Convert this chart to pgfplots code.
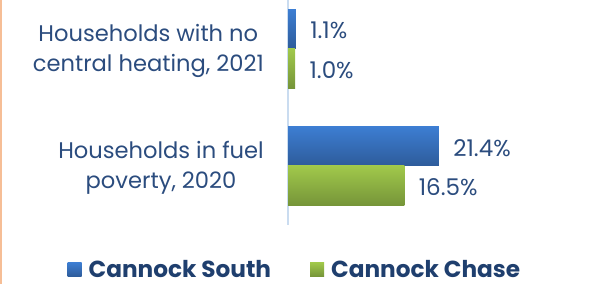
\documentclass[border=0pt]{standalone}
\usepackage{pgfplots}
\pgfplotsset{compat=1.18}
\usepackage{fontspec}
\setmainfont{Poppins}
\definecolor{txt}{HTML}{2B4C7E}
\definecolor{legtxt}{HTML}{1F3F6E}
\definecolor{blueT}{HTML}{3D7ED3}
\definecolor{blueM}{HTML}{366DB8}
\definecolor{blueB}{HTML}{2E5C9B}
\definecolor{greenT}{HTML}{A1C94B}
\definecolor{greenM}{HTML}{8DB042}
\definecolor{greenB}{HTML}{769539}
\definecolor{axl}{HTML}{CADCF0}
\definecolor{orl}{HTML}{F6BE96}
\pgfplotsset{
  bluebar/.style={top color=blueT, middle color=blueM, bottom color=blueB, draw=none, bar shift=19.75pt},
  greenbar/.style={top color=greenT, middle color=greenM, bottom color=greenB, draw=none, bar shift=-19.75pt},
}
\begin{document}
\begin{tikzpicture}[x=1pt,y=1pt]
\path[use as bounding box] (0,0) rectangle (592,284);
\fill[orl] (0,0) rectangle (2,284);
\begin{axis}[
  at={(288pt,59pt)}, anchor=south west,
  x=7.05pt, y=117pt,
  xmin=0, xmax=43, ymin=-0.5085, ymax=1.4145,
  xbar, bar width=39.5pt,
  axis x line=none, axis y line*=left,
  y axis line style={draw=axl, line width=2pt},
  ytick={0,1}, major tick length=0pt,
  yticklabels={{Households in fuel\\poverty, 2020},{Households with no\\central heating, 2021}},
  yticklabel style={align=center, font=\fontsize{22.6}{30}\selectfont, text=txt, inner sep=0pt, xshift=-24pt, yshift=-2pt},
  /pgf/number format/assume math mode=true,
  nodes near coords={\pgfmathprintnumber[fixed,fixed zerofill,precision=1]{\pgfplotspointmeta}\%},
  nodes near coords style={anchor=west, font=\fontsize{23}{26}\selectfont, text=txt, xshift=11pt, yshift=-2pt},
  legend style={at={(0.031,-0.197)}, anchor=center, draw=none, fill=none, inner sep=0pt,
    font=\bfseries\fontsize{23.2}{26}\selectfont, text=legtxt, legend columns=2,
    /tikz/every even column/.append style={column sep=32pt},
    nodes={inner xsep=7pt, inner ysep=0pt}},
  legend image code/.code={\path[#1, draw=none] (0pt,-7pt) rectangle (14pt,7pt);},
]
\addplot[bluebar] coordinates {(21.4,0)};
\addlegendentry{Cannock South}
\addplot[greenbar] coordinates {(16.5,0)};
\addlegendentry{Cannock Chase}
\addplot[bluebar, forget plot] coordinates {(1.1,1)};
\addplot[greenbar, forget plot] coordinates {(1.0,1)};
\end{axis}
\end{tikzpicture}
\end{document}
